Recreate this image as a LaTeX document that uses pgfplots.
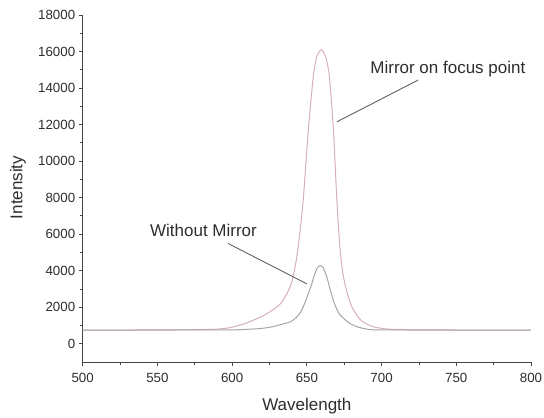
\documentclass[border=0pt]{standalone}
\usepackage{fontspec}
\setmainfont{Liberation Sans}
\usepackage{pgfplots}
\pgfplotsset{compat=1.18}
\definecolor{mirrorc}{RGB}{214,176,180}
\definecolor{plainc}{RGB}{165,165,165}
\definecolor{axisc}{RGB}{70,70,70}
\definecolor{txtc}{RGB}{45,45,45}

\begin{document}
\begin{tikzpicture}
\useasboundingbox (-82.7pt,-56pt) rectangle (461.3pt,362pt);
\begin{axis}[
    scale only axis,
    width=448.3pt, height=347pt,
    xmin=500, xmax=800,
    ymin=-1000, ymax=18000,
    axis x line=bottom, axis y line=left,
    axis line style={-, axisc, line width=0.9pt},
    xtick={500,550,...,800},
    ytick={0,2000,...,18000},
    scaled ticks=false,
    minor x tick num=1,
    minor y tick num=1,
    tick align=outside,
    major tick length=4pt,
    minor tick length=2.5pt,
    tick style={axisc, line width=0.8pt},
    /pgf/number format/assume math mode=true,
    /pgf/number format/1000 sep={},
    tick label style={font=\fontsize{13.3}{15}\selectfont, text=txtc},
    xticklabel style={yshift=-4pt},
    xlabel={Wavelength},
    ylabel={Intensity},
    label style={font=\fontsize{17}{19}\selectfont, text=txtc},
    xlabel style={at={(axis description cs:0.5,-0.127)}, anchor=center},
    ylabel style={at={(axis description cs:-0.1443,0.503)}, anchor=center},
    clip=false,
]
% Mirror on focus point
\addplot[mirrorc, line width=1pt, smooth, tension=0.4] coordinates {
    (500,750) (530,752) (560,755) (580,775) (590,800) (600,900) (610,1150)
    (620,1500) (628,1900) (633,2250) (637,2800) (640,3400) (643,4600)
    (645.5,6200) (647.7,8000) (651,11700) (654.4,14700) (656.8,15750)
    (659.6,16100) (662.4,15750) (665,14700) (667.8,11700) (670,8000)
    (672,5400) (674,3900) (676,3100) (678,2500) (680,2050) (683.5,1550)
    (687,1230) (692,1000) (697,880) (705,800) (720,760) (750,752) (800,750)
};
% Without Mirror
\addplot[plainc, line width=1pt, smooth, tension=0.4] coordinates {
    (500,750) (560,752) (600,760) (610,790) (620,840) (628,950) (634,1080)
    (639,1200) (643,1450) (646,1750) (649,2300) (651,2750) (653,3200)
    (655,3750) (657,4150) (659,4280) (661,4150) (663.4,3650) (665.5,3000)
    (667.8,2350) (670,1900) (672,1600) (674.5,1400) (678,1150) (683.5,930)
    (689,820) (695,760) (720,752) (800,750)
};
\draw[gray!75!black, line width=0.9pt] (axis cs:724.5,14440) -- (axis cs:670.1,12150);
\draw[gray!75!black, line width=0.9pt] (axis cs:597.3,5490) -- (axis cs:650,3280);
\node[anchor=west, inner sep=0, text=txtc, font=\fontsize{17}{19}\selectfont]
    at (axis cs:692.4,15040) {Mirror on focus point};
\node[anchor=west, inner sep=0, text=txtc, font=\fontsize{17}{19}\selectfont]
    at (axis cs:545,6200) {Without Mirror};
\end{axis}
\end{tikzpicture}
\end{document}
